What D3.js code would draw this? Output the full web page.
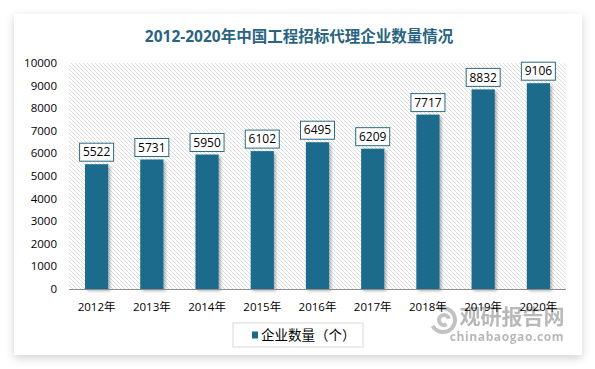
<!DOCTYPE html>
<html>
<head>
<meta charset="utf-8">
<script src="https://cdn.jsdelivr.net/npm/d3@7"></script>
<style>
  html, body { margin: 0; padding: 0; background: #ffffff; }
  svg { display: block; }
  text { font-family: "Open Sans", "Noto Sans CJK SC", sans-serif; }
</style>
</head>
<body>
<div id="chart"></div>
<script>
// chart data
const years = ['2012年', '2013年', '2014年', '2015年', '2016年', '2017年', '2018年', '2019年', '2020年'];
const companies = [5522, 5731, 5950, 6102, 6495, 6209, 7717, 8832, 9106];
const yTicks = [0, 1000, 2000, 3000, 4000, 5000, 6000, 7000, 8000, 9000, 10000];
const titleText = '2012-2020年中国工程招标代理企业数量情况';
const legendText = '企业数量（个）';

const width = 595, height = 369;
const plot = { left: 69, right: 566, top: 63, bottom: 289 };
const barColor = '#1d6a8c';

const svg = d3.select('#chart').append('svg')
    .attr('width', width)
    .attr('height', height);

const defs = svg.append('defs');

// card shadow
const cardShadow = defs.append('filter').attr('id', 'cardShadow')
    .attr('x', '-10%').attr('y', '-10%').attr('width', '120%').attr('height', '125%');
cardShadow.append('feDropShadow')
    .attr('dx', 0).attr('dy', 3).attr('stdDeviation', 5)
    .attr('flood-color', '#000').attr('flood-opacity', 0.18);

// bar shadow
const barShadow = defs.append('filter').attr('id', 'barShadow')
    .attr('x', '-30%').attr('y', '-10%').attr('width', '170%').attr('height', '130%');
barShadow.append('feDropShadow')
    .attr('dx', 2).attr('dy', 2).attr('stdDeviation', 1.5)
    .attr('flood-color', '#000').attr('flood-opacity', 0.3);

// hatch pattern for plot background
const hatch = defs.append('pattern').attr('id', 'hatch')
    .attr('patternUnits', 'userSpaceOnUse')
    .attr('width', 4).attr('height', 4);
hatch.append('path')
    .attr('d', 'M-1,-1 L5,5 M-1,3 L1,5 M3,-1 L5,1')
    .attr('stroke', '#d4d4d4').attr('stroke-width', 0.8);

// card
svg.append('rect')
    .attr('x', 14).attr('y', 14)
    .attr('width', 568).attr('height', 341)
    .attr('fill', '#fff')
    .attr('filter', 'url(#cardShadow)');

// title
svg.append('text')
    .attr('x', 299).attr('y', 42)
    .attr('text-anchor', 'middle')
    .attr('font-size', 15.5)
    .attr('font-weight', 'bold')
    .attr('fill', '#2a6482')
    .text(titleText);

// plot background
svg.append('rect')
    .attr('x', plot.left).attr('y', plot.top)
    .attr('width', plot.right - plot.left).attr('height', plot.bottom - plot.top)
    .attr('fill', 'url(#hatch)');

const x = d3.scaleBand()
    .domain(years)
    .range([plot.left, plot.right])
    .paddingInner(0.58)
    .paddingOuter(0.29);

const y = d3.scaleLinear()
    .domain([0, 10000])
    .range([plot.bottom, plot.top]);

// y axis labels
svg.append('g')
    .selectAll('text')
    .data(yTicks)
    .join('text')
    .attr('x', 57)
    .attr('y', d => y(d))
    .attr('dy', '0.35em')
    .attr('text-anchor', 'end')
    .attr('font-size', 11.5)
    .attr('fill', '#000')
    .text(d => d);

// bars
svg.append('g')
    .selectAll('rect')
    .data(companies)
    .join('rect')
    .attr('x', (d, i) => x(years[i]))
    .attr('y', d => y(d))
    .attr('width', x.bandwidth())
    .attr('height', d => y(0) - y(d))
    .attr('fill', barColor)
    .attr('filter', 'url(#barShadow)');

// baseline
svg.append('line')
    .attr('x1', plot.left).attr('x2', plot.right)
    .attr('y1', plot.bottom + 0.5).attr('y2', plot.bottom + 0.5)
    .attr('stroke', '#8c8c8c').attr('stroke-width', 1);

// watermark (sits under the axis labels, as in the original)
const wm = svg.append('g').attr('opacity', 0.6);
wm.append('path')
    .attr('d', d3.arc()({ innerRadius: 10, outerRadius: 14, startAngle: -0.4, endAngle: 4.2 }))
    .attr('transform', 'translate(443,320)')
    .attr('fill', '#9a9a9a');
wm.append('path')
    .attr('d', d3.arc()({ innerRadius: 3, outerRadius: 7, startAngle: 2.6, endAngle: 7.6 }))
    .attr('transform', 'translate(444,320)')
    .attr('fill', '#9a9a9a');
wm.append('text')
    .attr('x', 512).attr('y', 317)
    .attr('dy', '0.35em')
    .attr('text-anchor', 'middle')
    .attr('font-size', 21)
    .attr('font-weight', 'bold')
    .attr('fill', '#8a8a8a')
    .text('观研报告网');
wm.append('text')
    .attr('x', 507).attr('y', 337)
    .attr('dy', '0.35em')
    .attr('text-anchor', 'middle')
    .attr('font-size', 12)
    .attr('font-weight', 'bold')
    .attr('fill', '#8a8a8a')
    .attr('letter-spacing', 0.6)
    .text('chinabaogao.com');

// x labels
svg.append('g')
    .selectAll('text')
    .data(years)
    .join('text')
    .attr('x', d => x(d) + x.bandwidth() / 2)
    .attr('y', 307)
    .attr('dy', '0.35em')
    .attr('text-anchor', 'middle')
    .attr('font-size', 11.5)
    .attr('fill', '#000')
    .text(d => d);

// value labels in boxes
const labels = svg.append('g')
    .selectAll('g')
    .data(companies)
    .join('g')
    .attr('transform', (d, i) => `translate(${x(years[i]) + x.bandwidth() / 2},${y(d) - 12})`);

labels.append('rect')
    .attr('x', -17).attr('y', -9)
    .attr('width', 34).attr('height', 18)
    .attr('fill', '#fff')
    .attr('stroke', '#2a6a80')
    .attr('stroke-width', 1);

labels.append('text')
    .attr('dy', '0.35em')
    .attr('text-anchor', 'middle')
    .attr('font-size', 12)
    .attr('fill', '#000')
    .text(d => d);

// legend
const legend = svg.append('g').attr('transform', 'translate(233,323)');
legend.append('rect')
    .attr('width', 130).attr('height', 24)
    .attr('fill', '#fff')
    .attr('stroke', '#d9d9d9');
legend.append('rect')
    .attr('x', 19).attr('y', 8.5)
    .attr('width', 6).attr('height', 7)
    .attr('fill', barColor);
legend.append('text')
    .attr('x', 28).attr('y', 12)
    .attr('dy', '0.35em')
    .attr('font-size', 13.5)
    .attr('fill', '#000')
    .text(legendText);
</script>
</body>
</html>
